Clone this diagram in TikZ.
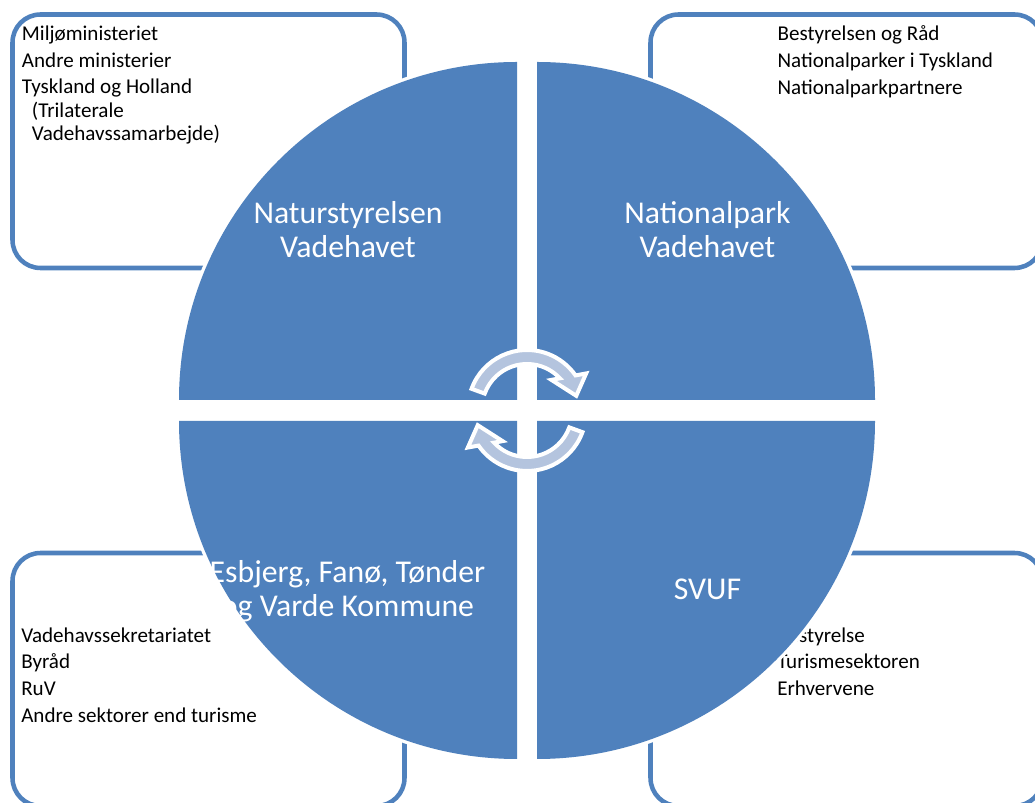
\documentclass[tikz,border=0pt]{standalone}
\usepackage{fontspec}
\setmainfont{Carlito}
\usetikzlibrary{calc}
\definecolor{blaa}{RGB}{79,129,189}
\definecolor{lyseblaa}{RGB}{180,196,222}
\tikzstyle{kasse} = [draw=blaa, line width=3.4pt, rounded corners=21pt]
\tikzstyle{kvadrant} = [fill=blaa, preaction={draw=white, line width=5pt}]
\tikzstyle{pil} = [fill=lyseblaa, draw=white, line width=3pt, line join=miter]
\tikzstyle{liste} = [anchor=base west, inner sep=0pt, font=\fontsize{15.8}{17.5}\selectfont]
\tikzstyle{etiket} = [anchor=base, inner sep=0pt, text=white, font=\fontsize{23.8}{25.5}\selectfont]

\begin{document}
\begin{tikzpicture}[x=0.75pt, y=0.75pt]

        \useasboundingbox (0,0) rectangle (1035,803);
        \clip (0,0) rectangle (1035,803);

        %% boxes
        \draw [kasse] (12.5,535) rectangle (404.5,788.5);
        \draw [kasse] (650.5,535) rectangle (1042.5,788.5);
        \draw [kasse] (12.5,-3) rectangle (404.5,250);
        \draw [kasse] (650.5,-3) rectangle (1042.5,250);

        \node (L1) [liste] at (21.7,762.5) {\begin{tabular}[t]{@{}l@{}}
            Miljøministeriet \\[2.5pt]
            Andre ministerier \\[2.5pt]
            Tyskland og Holland \\
            \hspace{7.5pt}(Trilaterale \\
            \hspace{7.5pt}Vadehavssamarbejde)
        \end{tabular}};
        \node (L2) [liste] at (777.3,762) {\begin{tabular}[t]{@{}l@{}}
            Bestyrelsen og Råd \\[2.5pt]
            Nationalparker i Tyskland \\[2.5pt]
            Nationalparkpartnere
        \end{tabular}};
        \node (L3) [liste] at (21,160.7) {\begin{tabular}[t]{@{}l@{}}
            Vadehavssekretariatet \\[2.5pt]
            Byråd \\[2.5pt]
            RuV \\[2.5pt]
            Andre sektorer end turisme
        \end{tabular}};
        \node (L4) [liste] at (777,160.7) {\begin{tabular}[t]{@{}l@{}}
            Bestyrelse \\[2.5pt]
            Turismesektoren \\[2.5pt]
            Erhvervene
        \end{tabular}};

        %% quadrants
        \fill [kvadrant] (517,403) -- ++(-338,0) arc[start angle=180, end angle=90, radius=338] -- cycle;
        \fill [kvadrant] (537,403) -- ++(0,338) arc[start angle=90, end angle=0, radius=338] -- cycle;
        \fill [kvadrant] (517,382) -- ++(0,-338) arc[start angle=270, end angle=180, radius=338] -- cycle;
        \fill [kvadrant] (537,382) -- ++(338,0) arc[start angle=0, end angle=-90, radius=338] -- cycle;

        \node (T1) [etiket] at (348,579) {\begin{tabular}[t]{@{}c@{}}
            Naturstyrelsen \\
            Vadehavet
        \end{tabular}};
        \node (T2) [etiket] at (707.5,579) {\begin{tabular}[t]{@{}c@{}}
            Nationalpark \\
            Vadehavet
        \end{tabular}};
        \node (T3) [etiket] at (347.5,220) {\begin{tabular}[t]{@{}c@{}}
            Esbjerg, Fanø, Tønder \\
            og Varde Kommune
        \end{tabular}};
        \node (T4) [etiket] at (707.5,203) {SVUF};

        %% arrows
        \draw [pil, shift={(527,394)}] (160:59) arc[start angle=160, end angle=34.7, radius=59]
            -- (31:69) -- (15:51) -- (50:38) -- (43:45) arc[start angle=43, end angle=160, radius=45] -- cycle;
        \draw [pil, shift={(527,391)}, rotate=180] (160:59) arc[start angle=160, end angle=34.7, radius=59]
            -- (31:69) -- (15:51) -- (50:38) -- (43:45) arc[start angle=43, end angle=160, radius=45] -- cycle;

\end{tikzpicture}
\end{document}
